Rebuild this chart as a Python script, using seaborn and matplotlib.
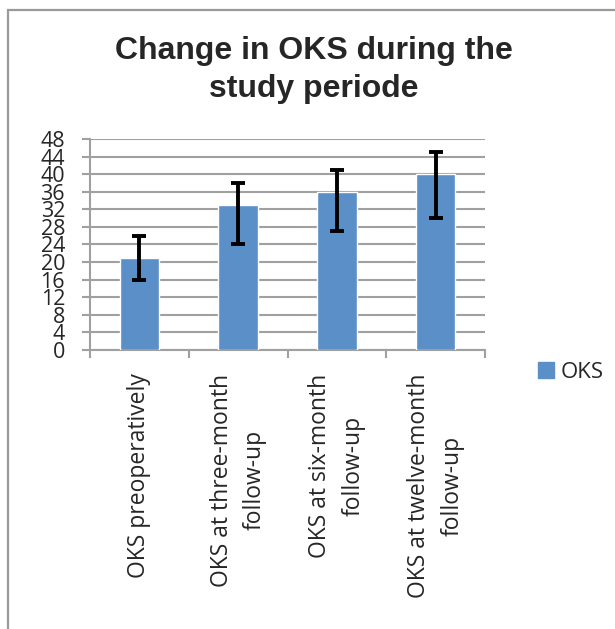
import matplotlib
matplotlib.use("Agg")
import matplotlib.pyplot as plt
import seaborn as sns
import pandas as pd
import numpy as np
from matplotlib.patches import Rectangle

categories = ["OKS preoperatively",
              "OKS at three-month\nfollow-up",
              "OKS at six-month\nfollow-up",
              "OKS at twelve-month\nfollow-up"]
means = [21, 33, 36, 40]
err_low = [16, 24, 27, 30]
err_high = [26, 38, 41, 45]
yticks = list(range(0, 49, 4))
title = "Change in OKS during the\nstudy periode"
series_name = "OKS"

sns.set_theme(style="white")
plt.rcParams['font.family'] = ['Open Sans', 'DejaVu Sans']

BAR = "#5B8FC8"
GRID = "#a0a0a0"

fig = plt.figure(figsize=(6.15, 6.29), dpi=100)
ax = fig.add_axes([90/615, 1-350/629, 395/615, 211/629])

df = pd.DataFrame({"cat": categories, "val": means})
sns.barplot(data=df, x="cat", y="val", color=BAR, width=0.4, ax=ax,
            saturation=1, label=series_name, zorder=3)
x = np.arange(len(categories))
lo = np.array(means) - np.array(err_low)
hi = np.array(err_high) - np.array(means)
ax.errorbar(x, means, yerr=[lo, hi], fmt="none", ecolor="black",
            elinewidth=2.8, capsize=5, capthick=2.8, zorder=4)

ax.set_xlim(-0.5, 3.5)
ax.set_ylim(0, 48)
ax.set_yticks(yticks)
ax.set_yticklabels([str(t) for t in yticks], fontsize=15.5)
ax.yaxis.grid(True, color=GRID, linewidth=1.5, zorder=0)
ax.set_axisbelow(True)
ax.tick_params(axis="y", length=6, width=1.5, color=GRID, pad=12, left=True)
ax.set_xticks([-0.5, 0.5, 1.5, 2.5, 3.5])
ax.set_xticklabels([])
ax.tick_params(axis="x", length=6, width=1.5, color=GRID, bottom=True)
ax.set_xticks(x, minor=True)
ax.set_xticklabels(categories, minor=True, rotation=90, fontsize=16.5,
                   va="top", ha="center", multialignment="center",
                   linespacing=1.5)
ax.tick_params(axis="x", which="minor", length=0, pad=17)
for s in ["top", "right"]:
    ax.spines[s].set_visible(False)
for s in ["left", "bottom"]:
    ax.spines[s].set_color(GRID)
    ax.spines[s].set_linewidth(1.5)
ax.set_xlabel("")
ax.set_ylabel("")

fig.text(314/615, 1-70/629, title, ha="center", va="center",
         fontsize=23, fontweight="bold", family="Liberation Sans",
         linespacing=1.35)

handle = Rectangle((0, 0), 1, 1, color=BAR)
fig.legend([handle], [series_name], loc="center left",
           bbox_to_anchor=(527/615, 1-372/629), frameon=False,
           fontsize=16, handlelength=0.7, handleheight=0.7,
           handletextpad=0.3, borderpad=0)
if ax.get_legend():
    ax.get_legend().remove()

fig.patches.append(Rectangle((8/615, -0.1), 1.2, 1-10/629+0.1,
                             transform=fig.transFigure, fill=False,
                             edgecolor="#9a9a9a", linewidth=1.6))

fig.savefig("out.png", dpi=100, facecolor="white")
